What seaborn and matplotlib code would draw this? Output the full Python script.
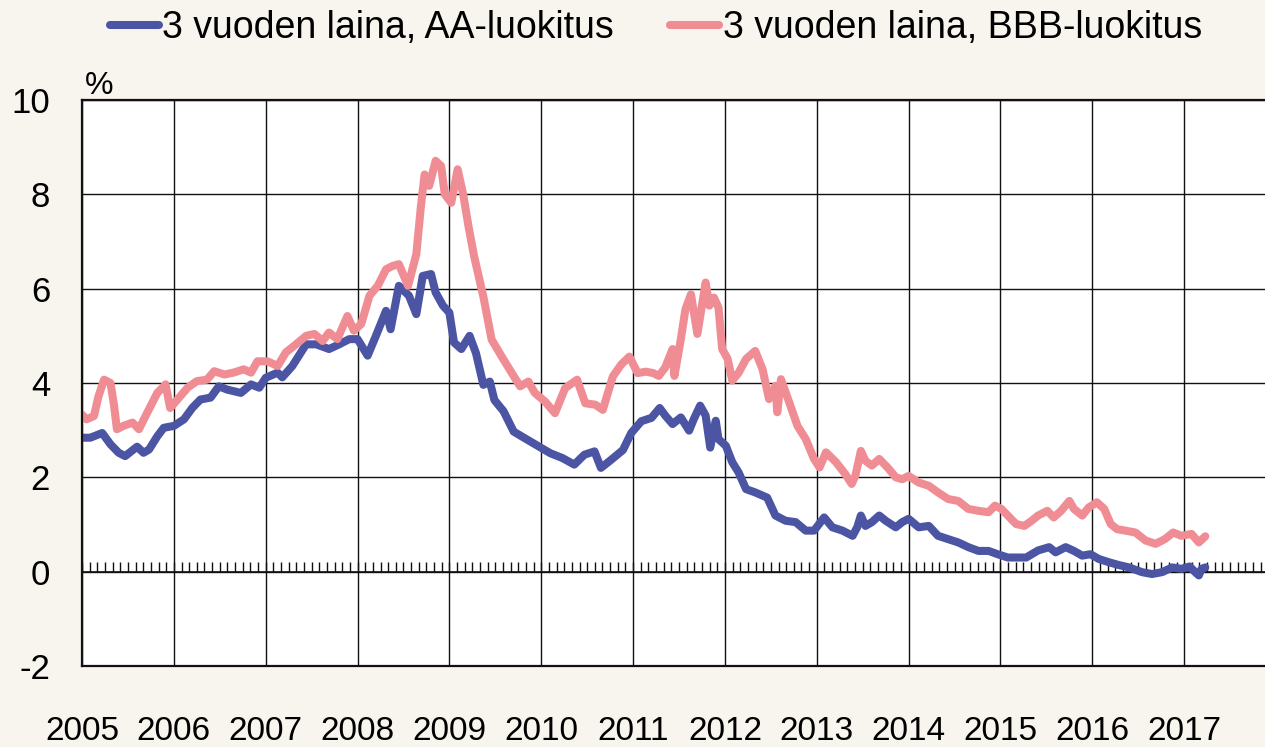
import pandas as pd
import seaborn as sns
import matplotlib.pyplot as plt
from matplotlib.lines import Line2D
from matplotlib.ticker import MultipleLocator, NullLocator

# 3 vuoden laina, AA-luokitus (vuosi desimaaleina, %)
aa_year = [2005.00, 2005.09, 2005.22, 2005.31, 2005.40, 2005.47, 2005.60, 2005.67, 2005.73, 2005.82,
           2005.89, 2006.00, 2006.11, 2006.20, 2006.29, 2006.40, 2006.49, 2006.58, 2006.73, 2006.84,
           2006.93, 2007.00, 2007.13, 2007.18, 2007.29, 2007.44, 2007.55, 2007.69, 2007.80, 2007.91,
           2008.00, 2008.11, 2008.20, 2008.31, 2008.36, 2008.45, 2008.56, 2008.64, 2008.71, 2008.80,
           2008.85, 2008.93, 2009.00, 2009.05, 2009.13, 2009.22, 2009.29, 2009.37, 2009.44, 2009.49,
           2009.59, 2009.70, 2009.82, 2009.97, 2010.10, 2010.23, 2010.36, 2010.47, 2010.58, 2010.65,
           2010.76, 2010.89, 2010.98, 2011.09, 2011.20, 2011.29, 2011.35, 2011.43, 2011.52, 2011.61,
           2011.66, 2011.73, 2011.79, 2011.84, 2011.90, 2011.93, 2012.01, 2012.08, 2012.15, 2012.23,
           2012.33, 2012.46, 2012.55, 2012.66, 2012.77, 2012.88, 2012.97, 2013.08, 2013.17, 2013.28,
           2013.39, 2013.44, 2013.48, 2013.53, 2013.60, 2013.68, 2013.75, 2013.86, 2013.93, 2014.00,
           2014.11, 2014.22, 2014.32, 2014.43, 2014.54, 2014.65, 2014.76, 2014.87, 2014.97, 2015.08,
           2015.19, 2015.28, 2015.41, 2015.53, 2015.60, 2015.71, 2015.80, 2015.89, 2015.98, 2016.07,
           2016.18, 2016.29, 2016.40, 2016.54, 2016.65, 2016.76, 2016.87, 2016.97, 2017.06, 2017.12,
           2017.16, 2017.19, 2017.23]
aa_rate = [2.84, 2.84, 2.94, 2.70, 2.52, 2.45, 2.65, 2.52, 2.59, 2.87,
           3.05, 3.09, 3.23, 3.47, 3.65, 3.69, 3.93, 3.86, 3.79, 3.97,
           3.90, 4.11, 4.22, 4.12, 4.36, 4.82, 4.82, 4.72, 4.82, 4.93,
           4.93, 4.58, 5.00, 5.53, 5.14, 6.06, 5.85, 5.46, 6.27, 6.31,
           5.92, 5.64, 5.49, 4.86, 4.72, 5.00, 4.63, 3.96, 4.03, 3.64,
           3.40, 2.97, 2.83, 2.66, 2.51, 2.41, 2.27, 2.48, 2.55, 2.20,
           2.37, 2.58, 2.94, 3.19, 3.26, 3.47, 3.31, 3.13, 3.27, 2.99,
           3.23, 3.52, 3.31, 2.63, 3.20, 2.81, 2.67, 2.32, 2.10, 1.75,
           1.68, 1.57, 1.19, 1.08, 1.05, 0.87, 0.87, 1.15, 0.94, 0.87,
           0.76, 0.94, 1.19, 0.97, 1.05, 1.19, 1.08, 0.94, 1.05, 1.12,
           0.94, 0.97, 0.76, 0.69, 0.62, 0.52, 0.44, 0.44, 0.37, 0.30,
           0.30, 0.30, 0.45, 0.52, 0.41, 0.52, 0.44, 0.34, 0.37, 0.27,
           0.20, 0.14, 0.09, -0.01, -0.05, -0.01, 0.09, 0.06, 0.11, -0.01,
           -0.08, 0.06, 0.09]

# 3 vuoden laina, BBB-luokitus
bbb_year = [2005.00, 2005.05, 2005.13, 2005.18, 2005.24, 2005.31, 2005.35, 2005.38, 2005.45, 2005.55,
            2005.62, 2005.71, 2005.82, 2005.91, 2005.96, 2006.04, 2006.15, 2006.25, 2006.36, 2006.44,
            2006.55, 2006.65, 2006.76, 2006.84, 2006.91, 2007.02, 2007.13, 2007.22, 2007.33, 2007.44,
            2007.53, 2007.62, 2007.69, 2007.78, 2007.89, 2007.96, 2008.04, 2008.13, 2008.22, 2008.31,
            2008.38, 2008.45, 2008.55, 2008.64, 2008.69, 2008.73, 2008.78, 2008.85, 2008.91, 2008.95,
            2009.02, 2009.09, 2009.15, 2009.21, 2009.27, 2009.37, 2009.46, 2009.57, 2009.68, 2009.77,
            2009.86, 2009.93, 2010.04, 2010.15, 2010.26, 2010.39, 2010.48, 2010.59, 2010.67, 2010.78,
            2010.87, 2010.96, 2011.05, 2011.14, 2011.22, 2011.28, 2011.35, 2011.43, 2011.45, 2011.52,
            2011.57, 2011.63, 2011.70, 2011.79, 2011.83, 2011.88, 2011.93, 2011.97, 2012.03, 2012.08,
            2012.15, 2012.23, 2012.33, 2012.41, 2012.48, 2012.55, 2012.57, 2012.61, 2012.70, 2012.79,
            2012.88, 2012.97, 2013.03, 2013.10, 2013.21, 2013.31, 2013.38, 2013.42, 2013.48, 2013.53,
            2013.60, 2013.68, 2013.77, 2013.86, 2013.93, 2014.00, 2014.11, 2014.22, 2014.32, 2014.43,
            2014.54, 2014.65, 2014.76, 2014.87, 2014.94, 2015.01, 2015.08, 2015.17, 2015.26, 2015.34,
            2015.41, 2015.51, 2015.58, 2015.66, 2015.75, 2015.80, 2015.89, 2015.96, 2016.05, 2016.13,
            2016.20, 2016.27, 2016.36, 2016.47, 2016.58, 2016.69, 2016.79, 2016.88, 2016.97, 2017.08,
            2017.16, 2017.23]
bbb_rate = [3.33, 3.23, 3.30, 3.72, 4.07, 4.00, 3.51, 3.02, 3.09, 3.16,
            3.02, 3.37, 3.79, 3.97, 3.47, 3.65, 3.90, 4.04, 4.07, 4.25,
            4.18, 4.22, 4.29, 4.22, 4.46, 4.46, 4.36, 4.65, 4.82, 5.00,
            5.04, 4.89, 5.07, 4.93, 5.42, 5.11, 5.25, 5.85, 6.06, 6.41,
            6.48, 6.52, 6.06, 6.73, 7.75, 8.42, 8.18, 8.71, 8.60, 8.00,
            7.82, 8.53, 8.00, 7.30, 6.68, 5.83, 4.92, 4.56, 4.21, 3.93,
            4.03, 3.79, 3.61, 3.36, 3.89, 4.07, 3.57, 3.54, 3.43, 4.14,
            4.39, 4.56, 4.21, 4.24, 4.21, 4.15, 4.33, 4.72, 4.15, 4.93,
            5.56, 5.88, 5.04, 6.13, 5.64, 5.81, 5.60, 4.72, 4.51, 4.05,
            4.22, 4.51, 4.68, 4.29, 3.66, 3.94, 3.38, 4.08, 3.59, 3.09,
            2.81, 2.39, 2.21, 2.53, 2.32, 2.07, 1.86, 2.03, 2.56, 2.35,
            2.25, 2.39, 2.21, 2.00, 1.96, 2.03, 1.89, 1.82, 1.68, 1.54,
            1.50, 1.33, 1.29, 1.26, 1.40, 1.33, 1.19, 1.01, 0.97, 1.08,
            1.19, 1.29, 1.15, 1.29, 1.50, 1.33, 1.19, 1.36, 1.47, 1.33,
            1.01, 0.90, 0.87, 0.83, 0.66, 0.59, 0.69, 0.83, 0.76, 0.80,
            0.62, 0.75]

labels = ["3 vuoden laina, AA-luokitus", "3 vuoden laina, BBB-luokitus"]
colors = ["#4b55a4", "#f08c94"]
years = list(range(2005, 2018))
yticks = [-2, 0, 2, 4, 6, 8, 10]

df = pd.concat([
    pd.DataFrame({"vuosi": aa_year, "korko": aa_rate, "sarja": labels[0]}),
    pd.DataFrame({"vuosi": bbb_year, "korko": bbb_rate, "sarja": labels[1]}),
])

sns.set_style("white")
plt.rcParams["font.family"] = ["Liberation Sans", "DejaVu Sans"]
plt.rcParams["axes.unicode_minus"] = False
plt.rcParams["text.color"] = "black"
plt.rcParams["xtick.color"] = "black"
plt.rcParams["ytick.color"] = "black"

bg = "#f8f4ee"
fig = plt.figure(figsize=(12.65, 7.47), dpi=100, facecolor=bg)
ax = fig.add_axes([82 / 1265, 1 - 666 / 747, (1276 - 82) / 1265, 566 / 747])
ax.set_facecolor("white")

sns.lineplot(data=df, x="vuosi", y="korko", hue="sarja", hue_order=labels,
             palette=colors, estimator=None, lw=5.8, legend=False, ax=ax,
             solid_joinstyle="round", solid_capstyle="round")

ax.set_xlim(2005, 2018)
ax.set_ylim(-2, 10)
ax.set_xticks(years)
ax.set_xticklabels([str(y) for y in years])
ax.set_yticks(yticks)
ax.set_yticklabels([str(v) for v in yticks])
ax.tick_params(axis="x", length=0, pad=36, labelsize=24, labelcolor="black")
ax.tick_params(axis="y", length=0, pad=23, labelsize=25, labelcolor="black")
ax.set_xlabel("")
ax.set_ylabel("")
ax.set_axisbelow(True)
ax.grid(True, color="#111111", lw=1.0)
for side in ["left", "top", "bottom", "right"]:
    ax.spines[side].set_color("#111111")
    ax.spines[side].set_linewidth(1.6)

# nollaviiva kuukausimerkein
sec = ax.secondary_xaxis(2 / 12)
sec.xaxis.set_major_locator(NullLocator())
sec.xaxis.set_minor_locator(MultipleLocator(1 / 12))
sec.tick_params(which="minor", direction="in", length=7, width=1.0, color="#111111")
for sp in sec.spines.values():
    sp.set_color("#111111")
    sp.set_linewidth(1.2)

fig.text(85 / 1265, 1 - 86 / 747, "%", fontsize=23, ha="left", va="center", color="black")

handles = [Line2D([0], [0], color=c, lw=5.8, solid_capstyle="round") for c in colors]
fig.legend(handles, labels, loc="center", bbox_to_anchor=(656 / 1265, 1 - 28 / 747),
           ncol=2, frameon=False, fontsize=27, handlelength=1.3, handletextpad=0.1,
           columnspacing=1.5, labelcolor="black")

fig.savefig("out.png", dpi=100, facecolor=bg)
